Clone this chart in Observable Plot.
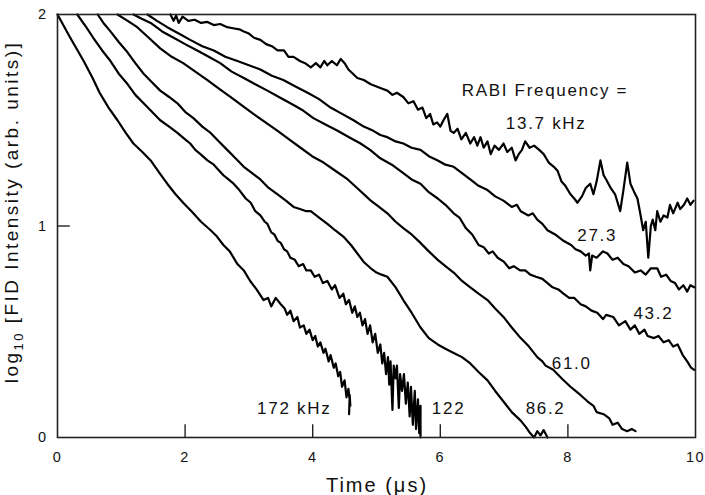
<!DOCTYPE html>
<html><head><meta charset="utf-8">
<script src="https://cdn.jsdelivr.net/npm/d3@7"></script>
<script src="https://cdn.jsdelivr.net/npm/@observablehq/plot@0.6"></script>
<style>
body{margin:0;background:#fff;}
#chart text{letter-spacing:0.1em;}
</style></head><body><div id="chart"></div>
<script>
// Time (µs) / log10 intensity pairs
const curve172 = [[0,2.0],[0.2,1.89],[0.41,1.78],[0.55,1.70],[0.66,1.63],[0.8,1.56],[0.94,1.50],[1.07,1.44],[1.19,1.39],[1.33,1.35],[1.46,1.31],[1.6,1.25],[1.72,1.20],[1.85,1.15],[1.97,1.11],[2.1,1.07],[2.25,1.02],[2.4,0.98],[2.5,0.95],[2.6,0.91],[2.7,0.88],[2.82,0.82],[2.92,0.79],[3.02,0.74],[3.12,0.70],[3.23,0.65],[3.3,0.66],[3.35,0.62],[3.42,0.66],[3.5,0.63],[3.56,0.61],[3.6,0.58],[3.65,0.60],[3.7,0.55],[3.76,0.57],[3.8,0.52],[3.86,0.53],[3.9,0.49],[3.95,0.51],[4.0,0.46],[4.04,0.48],[4.08,0.43],[4.12,0.45],[4.17,0.40],[4.2,0.42],[4.25,0.36],[4.28,0.39],[4.33,0.33],[4.36,0.35],[4.4,0.29],[4.43,0.31],[4.46,0.24],[4.5,0.27],[4.53,0.19],[4.56,0.23],[4.59,0.15],[4.58,0.20],[4.57,0.11]];
const curve122 = [[0.31,2.0],[0.45,1.94],[0.56,1.89],[0.7,1.83],[0.83,1.78],[0.96,1.72],[1.10,1.67],[1.22,1.62],[1.35,1.58],[1.48,1.54],[1.61,1.50],[1.75,1.47],[1.88,1.44],[2.0,1.41],[2.08,1.39],[2.16,1.36],[2.24,1.34],[2.35,1.31],[2.45,1.29],[2.51,1.27],[2.6,1.24],[2.68,1.22],[2.76,1.20],[2.85,1.17],[2.95,1.13],[3.03,1.11],[3.1,1.07],[3.18,1.05],[3.25,1.02],[3.29,1.01],[3.35,0.97],[3.4,0.96],[3.45,0.93],[3.5,0.92],[3.55,0.89],[3.6,0.88],[3.65,0.85],[3.72,0.84],[3.78,0.81],[3.85,0.82],[3.9,0.79],[3.97,0.79],[4.03,0.76],[4.1,0.77],[4.16,0.73],[4.23,0.74],[4.3,0.70],[4.35,0.72],[4.42,0.66],[4.48,0.68],[4.52,0.63],[4.57,0.65],[4.62,0.59],[4.66,0.62],[4.7,0.57],[4.74,0.59],[4.78,0.53],[4.82,0.56],[4.86,0.49],[4.9,0.53],[4.94,0.45],[4.98,0.49],[5.02,0.40],[5.06,0.44],[5.09,0.35],[5.12,0.40],[5.15,0.30],[5.18,0.38],[5.2,0.25],[5.22,0.36],[5.25,0.13],[5.27,0.34],[5.3,0.28],[5.32,0.34],[5.35,0.14],[5.37,0.30],[5.4,0.22],[5.43,0.30],[5.46,0.16],[5.49,0.26],[5.52,0.10],[5.54,0.24],[5.57,0.06],[5.6,0.22],[5.62,0.04],[5.65,0.18],[5.67,0.02],[5.69,0.15],[5.69,0.0]];
const curve86 = [[0.63,2.0],[0.72,1.96],[0.83,1.92],[0.96,1.87],[1.10,1.82],[1.22,1.77],[1.35,1.72],[1.48,1.68],[1.61,1.64],[1.75,1.61],[1.88,1.58],[2.0,1.54],[2.13,1.51],[2.27,1.47],[2.40,1.44],[2.53,1.40],[2.66,1.36],[2.79,1.32],[2.92,1.28],[3.05,1.25],[3.18,1.22],[3.31,1.18],[3.45,1.15],[3.58,1.12],[3.70,1.09],[3.80,1.08],[3.9,1.07],[3.97,1.07],[4.1,1.04],[4.23,1.01],[4.35,0.98],[4.48,0.95],[4.6,0.91],[4.70,0.87],[4.8,0.83],[4.91,0.80],[5.0,0.78],[5.08,0.77],[5.17,0.76],[5.3,0.71],[5.42,0.65],[5.55,0.59],[5.69,0.52],[5.82,0.47],[5.96,0.44],[6.08,0.42],[6.21,0.40],[6.34,0.38],[6.47,0.35],[6.6,0.31],[6.74,0.27],[6.86,0.22],[6.99,0.17],[7.12,0.12],[7.26,0.08],[7.34,0.05],[7.41,0.02],[7.47,0.0],[7.52,0.03],[7.57,0.01],[7.62,0.035],[7.68,0.0]];
const curve61 = [[0.94,2.0],[1.1,1.97],[1.25,1.94],[1.43,1.89],[1.61,1.84],[1.79,1.80],[1.97,1.77],[2.16,1.73],[2.35,1.69],[2.53,1.65],[2.71,1.61],[2.89,1.57],[3.07,1.53],[3.26,1.49],[3.45,1.45],[3.63,1.41],[3.81,1.37],[3.99,1.33],[4.17,1.30],[4.36,1.26],[4.55,1.22],[4.73,1.17],[4.91,1.12],[5.04,1.09],[5.17,1.06],[5.3,1.02],[5.42,0.99],[5.55,0.96],[5.69,0.92],[5.82,0.88],[5.96,0.84],[6.08,0.81],[6.21,0.78],[6.34,0.74],[6.47,0.71],[6.6,0.68],[6.74,0.65],[6.86,0.61],[6.99,0.57],[7.12,0.52],[7.26,0.47],[7.39,0.43],[7.52,0.38],[7.6,0.36],[7.65,0.34],[7.77,0.32],[7.9,0.28],[8.04,0.24],[8.12,0.22],[8.2,0.20],[8.31,0.17],[8.4,0.15],[8.45,0.12],[8.56,0.11],[8.65,0.09],[8.7,0.06],[8.78,0.07],[8.85,0.04],[8.93,0.03],[9.0,0.04],[9.06,0.03]];
const curve43 = [[1.19,2.0],[1.32,1.98],[1.46,1.96],[1.64,1.92],[1.82,1.89],[2.0,1.86],[2.19,1.83],[2.37,1.80],[2.55,1.77],[2.73,1.73],[2.92,1.70],[3.1,1.67],[3.29,1.64],[3.47,1.61],[3.65,1.58],[3.83,1.55],[4.01,1.51],[4.2,1.48],[4.39,1.45],[4.57,1.42],[4.75,1.39],[4.9,1.36],[5.06,1.32],[5.24,1.29],[5.42,1.25],[5.55,1.22],[5.69,1.20],[5.82,1.16],[5.96,1.13],[6.08,1.10],[6.21,1.06],[6.3,1.04],[6.4,0.99],[6.5,0.96],[6.6,0.91],[6.68,0.90],[6.76,0.87],[6.82,0.88],[6.9,0.85],[7.0,0.83],[7.08,0.80],[7.15,0.81],[7.25,0.79],[7.33,0.79],[7.41,0.77],[7.5,0.76],[7.6,0.75],[7.68,0.73],[7.76,0.71],[7.85,0.70],[7.93,0.68],[8.02,0.66],[8.1,0.66],[8.2,0.63],[8.28,0.62],[8.37,0.60],[8.46,0.59],[8.55,0.56],[8.6,0.58],[8.71,0.57],[8.8,0.53],[8.9,0.55],[8.98,0.51],[9.05,0.53],[9.12,0.49],[9.2,0.51],[9.25,0.48],[9.35,0.47],[9.42,0.48],[9.5,0.45],[9.58,0.46],[9.65,0.43],[9.72,0.44],[9.8,0.39],[9.87,0.36],[9.93,0.33],[9.98,0.32]];
const curve27 = [[1.41,2.0],[1.56,1.97],[1.72,1.94],[1.9,1.91],[2.08,1.88],[2.27,1.85],[2.45,1.83],[2.63,1.80],[2.82,1.78],[3.0,1.76],[3.18,1.74],[3.36,1.71],[3.54,1.69],[3.73,1.66],[3.92,1.63],[4.1,1.60],[4.28,1.56],[4.46,1.53],[4.64,1.50],[4.8,1.47],[4.95,1.45],[5.06,1.43],[5.17,1.42],[5.3,1.40],[5.42,1.39],[5.55,1.37],[5.69,1.36],[5.82,1.33],[5.96,1.31],[6.08,1.29],[6.21,1.28],[6.34,1.25],[6.47,1.22],[6.6,1.19],[6.74,1.17],[6.86,1.14],[6.99,1.12],[7.12,1.09],[7.2,1.10],[7.26,1.07],[7.38,1.05],[7.45,1.06],[7.52,1.03],[7.6,1.01],[7.68,0.98],[7.8,0.96],[7.93,0.93],[8.05,0.91],[8.12,0.89],[8.2,0.88],[8.28,0.86],[8.33,0.87],[8.35,0.79],[8.38,0.86],[8.45,0.85],[8.55,0.88],[8.62,0.87],[8.7,0.84],[8.78,0.85],[8.87,0.82],[8.95,0.81],[9.05,0.78],[9.14,0.79],[9.22,0.77],[9.3,0.80],[9.4,0.80],[9.46,0.76],[9.54,0.77],[9.61,0.74],[9.68,0.73],[9.74,0.70],[9.81,0.72],[9.87,0.69],[9.92,0.72],[9.98,0.71]];
const curve13 = [[1.77,2.0],[1.82,1.97],[1.86,1.995],[1.9,1.96],[1.96,1.99],[2.05,1.97],[2.15,1.975],[2.25,1.96],[2.35,1.965],[2.45,1.95],[2.55,1.955],[2.66,1.94],[2.75,1.935],[2.85,1.93],[2.92,1.92],[3.0,1.91],[3.08,1.89],[3.18,1.88],[3.27,1.86],[3.36,1.85],[3.45,1.83],[3.55,1.83],[3.62,1.80],[3.7,1.80],[3.8,1.78],[3.88,1.77],[3.97,1.75],[4.05,1.77],[4.12,1.75],[4.18,1.78],[4.23,1.76],[4.3,1.78],[4.38,1.76],[4.44,1.79],[4.5,1.77],[4.56,1.74],[4.63,1.72],[4.70,1.70],[4.8,1.69],[4.91,1.67],[5.0,1.66],[5.08,1.65],[5.17,1.64],[5.25,1.62],[5.32,1.63],[5.42,1.61],[5.5,1.58],[5.58,1.59],[5.65,1.55],[5.72,1.56],[5.78,1.51],[5.84,1.53],[5.89,1.48],[5.95,1.49],[6.0,1.47],[6.05,1.50],[6.11,1.53],[6.16,1.45],[6.21,1.44],[6.27,1.46],[6.33,1.41],[6.4,1.44],[6.47,1.39],[6.53,1.42],[6.58,1.38],[6.63,1.42],[6.68,1.37],[6.74,1.40],[6.79,1.34],[6.85,1.38],[6.92,1.36],[6.99,1.39],[7.05,1.35],[7.12,1.37],[7.18,1.31],[7.23,1.34],[7.28,1.36],[7.33,1.40],[7.4,1.37],[7.47,1.38],[7.55,1.36],[7.62,1.34],[7.7,1.30],[7.78,1.28],[7.84,1.26],[7.9,1.21],[7.96,1.19],[8.04,1.15],[8.1,1.13],[8.15,1.11],[8.22,1.14],[8.28,1.18],[8.35,1.20],[8.4,1.15],[8.45,1.21],[8.51,1.31],[8.56,1.24],[8.6,1.22],[8.67,1.18],[8.74,1.15],[8.82,1.07],[8.87,1.17],[8.93,1.30],[8.98,1.20],[9.04,1.16],[9.09,1.13],[9.14,1.05],[9.18,0.98],[9.22,1.02],[9.26,0.85],[9.3,1.00],[9.33,1.03],[9.37,0.98],[9.4,1.07],[9.45,1.02],[9.5,1.05],[9.56,1.04],[9.6,1.10],[9.65,1.06],[9.72,1.11],[9.76,1.08],[9.82,1.10],[9.87,1.13],[9.92,1.10],[9.97,1.12]];

const seriesNames = ["172","122","86.2","61.0","43.2","27.3","13.7"];
const seriesData = [curve172, curve122, curve86, curve61, curve43, curve27, curve13];

const labelText = ["RABI Frequency =","13.7 kHz","27.3","43.2","61.0","86.2","122","172 kHz"];
const labelX = [7.64, 7.66, 8.46, 9.34, 8.06, 7.65, 6.13, 3.71];
const labelY = [1.64, 1.485, 0.955, 0.586, 0.35, 0.137, 0.137, 0.137];

const xTicks = [0,2,4,6,8,10];
const yTicks = [0,1,2];
const innerXTicks = [2,4,6,8];
const innerYTicks = [1];

const rows = seriesData.flatMap((pts, i) => pts.map(([t, v]) => ({s: seriesNames[i], t, v})));
const labels = labelText.map((text, i) => ({text, x: labelX[i], y: labelY[i]}));

const plot = Plot.plot({
  width: 705, height: 495,
  marginLeft: 57, marginRight: 10, marginTop: 14, marginBottom: 58,
  x: {domain: [0, 10], axis: null},
  y: {domain: [0, 2], axis: null},
  style: {fontFamily: "'Liberation Sans', Arial, sans-serif", fontSize: "14px", color: "#111", background: "#fff"},
  marks: [
    Plot.line(rows, {x: "t", y: "v", z: "s", stroke: "#000", strokeWidth: 2.2, strokeLinejoin: "round"}),
    Plot.frame({stroke: "#222", strokeWidth: 1.6}),
    Plot.ruleX(innerXTicks, {y1: 0, y2: 0.06, stroke: "#222", strokeWidth: 1.4}),
    Plot.ruleY(innerYTicks, {x1: 0, x2: 0.2, stroke: "#222", strokeWidth: 1.4}),
    Plot.text(xTicks, {x: d => d, y: 0, dy: 20, text: d => String(d), fontSize: 14.5, fill: "#111"}),
    Plot.text(yTicks, {x: 0, y: d => d, dx: -10, textAnchor: "end", text: d => String(d), fontSize: 14.5, fill: "#111"}),
    Plot.text(labels, {x: "x", y: "y", text: "text", fontSize: 17, fill: "#111"})
  ]
});

const svg = d3.select(plot);
svg.append("text")
  .attr("x", 377).attr("y", 492)
  .attr("text-anchor", "middle")
  .attr("font-size", 20).attr("fill", "#111")
  .text("Time (μs)");
const yl = svg.append("text")
  .attr("transform", "translate(18,212) rotate(-90)")
  .attr("text-anchor", "middle")
  .attr("font-size", 19).attr("fill", "#111")
  .style("letter-spacing", "0.13em");
yl.append("tspan").text("log");
yl.append("tspan").attr("dy", 5).attr("font-size", 13).text("10");
yl.append("tspan").attr("dy", -5).text(" [FID Intensity (arb. units)]");

document.getElementById("chart").appendChild(plot);
</script></body></html>
